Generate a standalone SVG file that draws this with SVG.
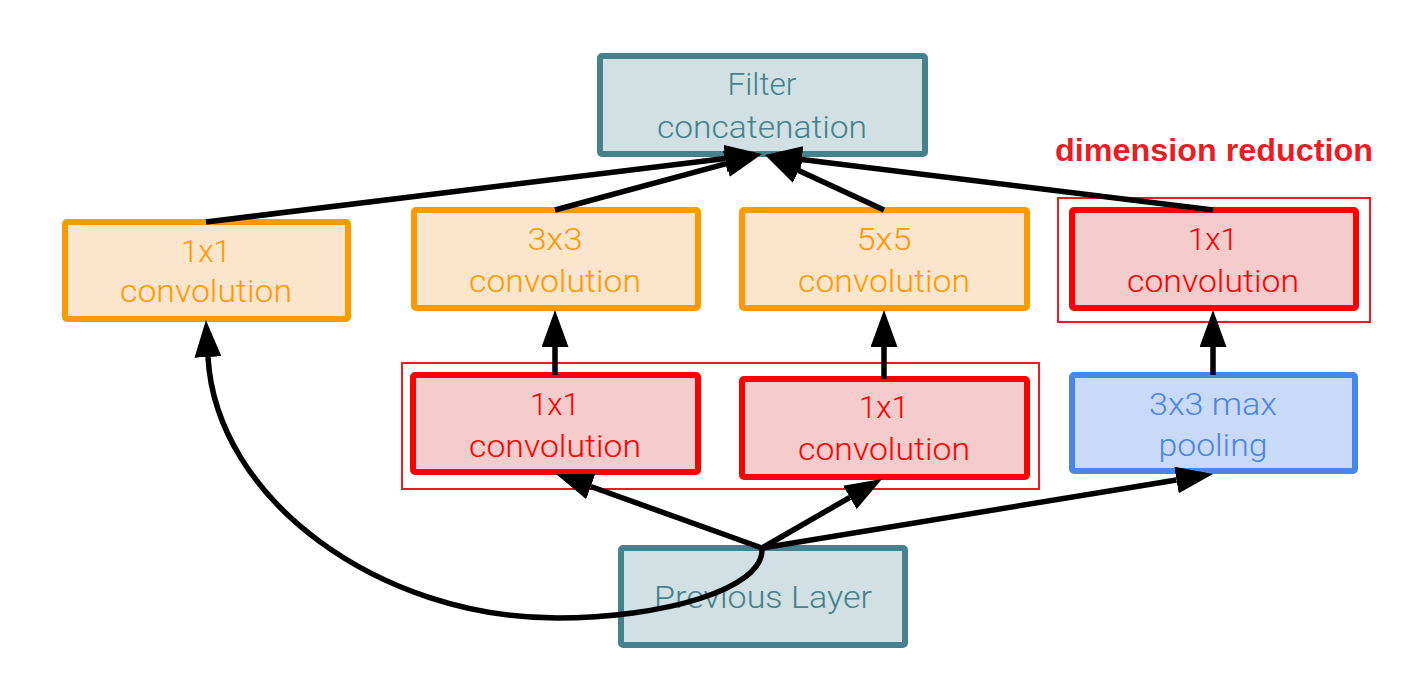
<svg xmlns="http://www.w3.org/2000/svg" width="1418" height="700" viewBox="0 0 1418 700">
<style>
.box{stroke-width:6;}
.teal{fill:#d0e0e3;stroke:#45818e;}
.orange{fill:#fce5cd;stroke:#ff9900;}
.red{fill:#f4cccc;stroke:#ff0000;}
.blue{fill:#c9daf8;stroke:#4a86e8;}
.group{fill:none;stroke:#ed1c24;stroke-width:2;}
text{font-family:Roboto,"Liberation Sans",Arial,sans-serif;font-weight:300;font-size:31px;text-anchor:middle;}
.tteal{fill:#45818e;}
.torange{fill:#ff9900;}
.tred{fill:#ff0000;}
.tblue{fill:#4a86e8;}
.label{font-family:"Liberation Sans",Arial,sans-serif;font-weight:bold;font-size:32px;fill:#ed1c24;text-anchor:start;}
.conn{fill:none;stroke:#000;stroke-width:5.5;marker-end:url(#ah);}
</style>
<defs>
<marker id="ah" markerUnits="userSpaceOnUse" markerWidth="37" markerHeight="27" viewBox="0 0 37 27" refX="0" refY="13.5" orient="auto">
<path d="M0,0 L37,13.5 L0,27 z" fill="#000"/>
</marker>
</defs>
<rect width="1418" height="700" fill="#fff"/>

<g id="group-mid"><rect class="group" x="402" y="363" width="637" height="126"/></g>
<g id="group-dim"><rect class="group" x="1058" y="198" width="312" height="124"/></g>
<g id="label-dim"><text class="label" x="1055" y="161" textLength="318" lengthAdjust="spacingAndGlyphs">dimension reduction</text></g>

<g id="filter-concat">
<rect class="box teal" x="600" y="56" width="325" height="98" rx="2"/>
<text class="tteal" x="762" y="95" textLength="69" lengthAdjust="spacingAndGlyphs">Filter</text>
<text class="tteal" x="762" y="138" textLength="210" lengthAdjust="spacingAndGlyphs">concatenation</text>
</g>

<g id="conv1x1-a">
<rect class="box orange" x="65" y="222" width="283" height="97" rx="2"/>
<text class="torange" x="206" y="262" textLength="50" lengthAdjust="spacingAndGlyphs">1x1</text>
<text class="torange" x="206" y="302" textLength="172" lengthAdjust="spacingAndGlyphs">convolution</text>
</g>

<g id="conv3x3">
<rect class="box orange" x="414" y="210" width="284" height="98" rx="2"/>
<text class="torange" x="555" y="250" textLength="55" lengthAdjust="spacingAndGlyphs">3x3</text>
<text class="torange" x="555" y="292" textLength="172" lengthAdjust="spacingAndGlyphs">convolution</text>
</g>

<g id="conv5x5">
<rect class="box orange" x="742" y="210" width="285" height="98" rx="2"/>
<text class="torange" x="884" y="250" textLength="55" lengthAdjust="spacingAndGlyphs">5x5</text>
<text class="torange" x="884" y="292" textLength="172" lengthAdjust="spacingAndGlyphs">convolution</text>
</g>

<g id="conv1x1-dim">
<rect class="box red" x="1072" y="210" width="284" height="98" rx="2"/>
<text class="tred" x="1213" y="250" textLength="50" lengthAdjust="spacingAndGlyphs">1x1</text>
<text class="tred" x="1213" y="292" textLength="172" lengthAdjust="spacingAndGlyphs">convolution</text>
</g>

<g id="conv1x1-b">
<rect class="box red" x="413" y="375" width="285" height="97" rx="2"/>
<text class="tred" x="555" y="415" textLength="50" lengthAdjust="spacingAndGlyphs">1x1</text>
<text class="tred" x="555" y="457" textLength="172" lengthAdjust="spacingAndGlyphs">convolution</text>
</g>

<g id="conv1x1-c">
<rect class="box red" x="742" y="379" width="285" height="98" rx="2"/>
<text class="tred" x="884" y="418" textLength="50" lengthAdjust="spacingAndGlyphs">1x1</text>
<text class="tred" x="884" y="460" textLength="172" lengthAdjust="spacingAndGlyphs">convolution</text>
</g>

<g id="maxpool">
<rect class="box blue" x="1072" y="375" width="283" height="96" rx="2"/>
<text class="tblue" x="1213" y="415" textLength="128" lengthAdjust="spacingAndGlyphs">3x3 max</text>
<text class="tblue" x="1213" y="456" textLength="109" lengthAdjust="spacingAndGlyphs">pooling</text>
</g>

<g id="previous-layer">
<rect class="box teal" x="621" y="548" width="284" height="97" rx="2"/>
<text class="tteal" x="763" y="608" textLength="218" lengthAdjust="spacingAndGlyphs">Previous Layer</text>
</g>

<g id="connectors">
<path class="conn" d="M206 222 L725.3 158.4"/>
<path class="conn" d="M555 210 L726.3 163.7"/>
<path class="conn" d="M884 210 L798.6 170.5"/>
<path class="conn" d="M1213 210 L801.7 159.5"/>
<path class="conn" d="M555 375 L555 347"/>
<path class="conn" d="M884 379 L884 347"/>
<path class="conn" d="M1213 375 L1213 347"/>
<path class="conn" d="M762 548 L590.8 486.5"/>
<path class="conn" d="M762 548 L849.9 497.4"/>
<path class="conn" d="M762 548 L1176.5 480"/>
<path class="conn" d="M762 548 C765 590 660 618 557 618 C380 618 216 500 208 357"/>
</g>
</svg>
